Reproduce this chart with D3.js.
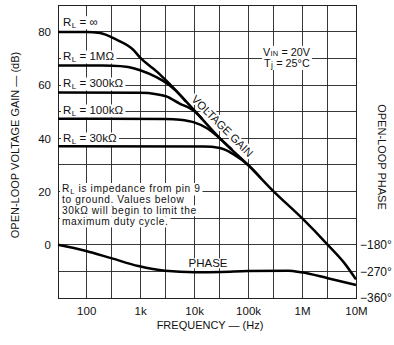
<!DOCTYPE html>
<html>
<head>
<meta charset="utf-8">
<script src="https://cdn.jsdelivr.net/npm/d3@7"></script>
<style>
  html, body { margin: 0; padding: 0; background: #fff; }
  svg { display: block; }
  text { font-family: "Liberation Sans", Arial, Helvetica, sans-serif; fill: #111; }
</style>
</head>
<body>
<svg id="chart" width="394" height="345"></svg>
<script>
// ---------------- DATA ----------------
const freqTickValues = [100, 1e3, 1e4, 1e5, 1e6, 1e7];
const freqTickLabels = ["100", "1k", "10k", "100k", "1M", "10M"];
const gridFreqs = [100, 300, 1e3, 3e3, 1e4, 3e4, 1e5, 3e5, 1e6, 3e6];
const gainTickValues = [0, 20, 40, 60, 80];
const gridGains = [-10, 0, 10, 20, 30, 40, 50, 60, 70, 80];
const phaseTickValues = [-180, -270, -360];
const phaseTickLabels = ["\u2212180°", "\u2212270°", "\u2212360°"];

// R_L = infinity
const freqInf = [30, 100, 181, 371, 751, 1000, 2037, 3120, 10000, 30000, 100000, 300000, 1e6, 3e6, 6e6, 1e7];
const gainInf = [80, 80, 79.6, 77, 73.2, 70.3, 65.1, 61.5, 50.6, 40, 30, 20, 10, 0, -6.7, -13];
// R_L = 1 MOhm
const freq1M = [30, 300, 600, 1000, 2000, 3300, 4500, 7000];
const gain1M = [67.4, 67.3, 66.8, 65.6, 63, 60.3, 58, 53.9];
// R_L = 300 kOhm
const freq300k = [30, 1000, 2000, 3000, 5500, 8000, 10000, 14000];
const gain300k = [57.2, 57.1, 56.6, 55.8, 53, 51.5, 50.3, 47.3];
// R_L = 100 kOhm
const freq100k = [30, 3000, 5500, 10000, 17000, 30000, 50000];
const gain100k = [47.4, 47.3, 47, 46, 43.9, 40, 35.8];
// R_L = 30 kOhm
const freq30k = [30, 15000, 30000, 55000, 100000, 170000];
const gain30k = [37, 36.9, 36.4, 33.9, 30, 25.2];
// Phase
const freqPhase = [30, 96, 300, 930, 2900, 10400, 32000, 100000, 550000, 970000, 3e6, 1e7];
const phaseDeg = [-180, -200, -226, -252, -268, -273, -272, -269, -268, -273, -293, -316];

const seriesLabels = ["\u221E", "1M\u03A9", "300k\u03A9", "100k\u03A9", "30k\u03A9"];
const noteLines = ["to ground. Values below", "30k\u03A9 will begin to limit the", "maximum duty cycle."];

// ---------------- CHART ----------------
const svg = d3.select("#chart");
svg.append("rect").attr("width", 394).attr("height", 345).attr("fill", "#fff");

const L = 58, R = 356, T = 5.3, B = 298;
const x = d3.scaleLog().domain([30, 1e7]).range([L, R]);
const y = d3.scaleLinear().domain([-20, 90]).range([B, T]);
const yP = d3.scaleLinear().domain([-360, 630]).range([B, T]);

const gridCol = "#222";
const grid = svg.append("g").attr("stroke", gridCol).attr("stroke-width", 0.9).attr("shape-rendering", "crispEdges");
grid.selectAll("line.v").data(gridFreqs).enter().append("line")
  .attr("x1", d => x(d)).attr("x2", d => x(d)).attr("y1", T).attr("y2", B);
grid.selectAll("line.h").data(gridGains).enter().append("line")
  .attr("x1", L).attr("x2", R).attr("y1", d => y(d)).attr("y2", d => y(d));
svg.append("rect").attr("x", L).attr("y", T).attr("width", R - L).attr("height", B - T)
  .attr("fill", "none").attr("stroke", gridCol).attr("stroke-width", 1).attr("shape-rendering", "crispEdges");

const bgLayer = svg.append("g");
const curveLayer = svg.append("g");
const textLayer = svg.append("g");

function addBg(node, padX, padY) {
  const bb = node.getBBox();
  bgLayer.append("rect")
    .attr("x", bb.x - padX).attr("y", bb.y - padY)
    .attr("width", bb.width + 2 * padX).attr("height", bb.height + 2 * padY)
    .attr("fill", "#fff");
}

// sequence of text pieces placed one after another (separate text elements)
function richText(x0, y0, segs, opts) {
  const g = textLayer.append("g");
  let cx = x0;
  segs.forEach(s => {
    cx += (s.gap || 0);
    const t = g.append("text").attr("x", cx).attr("y", y0 + (s.dy || 0))
      .attr("font-size", s.size).text(s.t);
    if (opts && opts.ls) t.attr("letter-spacing", opts.ls);
    cx += t.node().getComputedTextLength() + 0.4;
  });
  return g;
}

// curves
const line = d3.line().x(d => d[0]).y(d => d[1]).curve(d3.curveMonotoneX);
function drawGain(fs, gs) {
  const pts = fs.map((f, i) => [x(f), y(gs[i])]);
  curveLayer.append("path").attr("d", line(pts)).attr("fill", "none")
    .attr("stroke", "#000").attr("stroke-width", 2.5).attr("stroke-linejoin", "round");
}
drawGain(freqInf, gainInf);
drawGain(freq1M, gain1M);
drawGain(freq300k, gain300k);
drawGain(freq100k, gain100k);
drawGain(freq30k, gain30k);
curveLayer.append("path")
  .attr("d", line(freqPhase.map((f, i) => [x(f), yP(phaseDeg[i])])))
  .attr("fill", "none").attr("stroke", "#000").attr("stroke-width", 2.5);

// RL labels
const labelBaselines = [25.7, 60, 87, 114, 142];
seriesLabels.forEach((lab, i) => {
  const g = richText(63, labelBaselines[i], [
    { t: "R", size: 11.5 }, { t: "L", size: 8, dy: 2 }, { t: "= " + lab, size: 11.5, gap: 3 }
  ]);
  addBg(g.node(), 2, -0.5);
});

// conditions
const c1 = richText(263, 55.8, [{ t: "V", size: 10.8 }, { t: "IN", size: 7.5, dy: 0.3 }, { t: "= 20V", size: 10.8, gap: 3 }]);
const c2 = richText(264, 66.8, [{ t: "T", size: 10.8 }, { t: "j", size: 8.5, dy: 1.2 }, { t: "= 25°C", size: 10.8, gap: 3 }]);
addBg(c1.node(), 2, 0); addBg(c2.node(), 2, 0);

// note
const noteSize = 10.2, noteLS = 0.6;
const n1 = richText(62, 192, [{ t: "R", size: noteSize }, { t: "L", size: 7.5, dy: 1.5 }, { t: "is impedance from pin 9", size: noteSize, gap: 3 }], { ls: noteLS });
addBg(n1.node(), 2, 0);
noteLines.forEach((s, i) => {
  const t = textLayer.append("text").attr("x", 62).attr("y", 203.2 + i * 11.1)
    .attr("font-size", noteSize).attr("letter-spacing", noteLS).text(s);
  addBg(t.node(), 2, 0);
});

// PHASE label
const ph = textLayer.append("text").attr("x", 188.5).attr("y", 267.3).attr("font-size", 11.5).text("PHASE");
addBg(ph.node(), 1, -1);

// VOLTAGE GAIN label along the curve
textLayer.append("text")
  .attr("transform", "translate(222.5,126) rotate(45)")
  .attr("text-anchor", "middle").attr("dominant-baseline", "central")
  .attr("font-size", 11.2).attr("stroke", "#fff").attr("stroke-width", 4)
  .attr("paint-order", "stroke").attr("stroke-linejoin", "round")
  .text("VOLTAGE GAIN");

// axes
const ax = svg.append("g").attr("transform", `translate(0,${B})`)
  .call(d3.axisBottom(x).tickValues(freqTickValues).tickFormat((d, i) => freqTickLabels[i]).tickSize(0).tickPadding(9));
const ay = svg.append("g").attr("transform", `translate(${L},0)`)
  .call(d3.axisLeft(y).tickValues(gainTickValues).tickSize(0).tickPadding(7));
const ap = svg.append("g").attr("transform", `translate(${R},0)`)
  .call(d3.axisRight(yP).tickValues(phaseTickValues).tickFormat((d, i) => phaseTickLabels[i]).tickSize(0).tickPadding(4));
[ax, ay, ap].forEach(g => {
  g.select(".domain").remove();
  g.attr("font-family", null).attr("font-size", null);
  g.selectAll("text").attr("font-size", 11.5).attr("fill", "#111");
});
ap.selectAll("text").attr("font-size", 12);

// titles
svg.append("text").attr("x", 210).attr("y", 329).attr("text-anchor", "middle").attr("font-size", 11)
  .text("FREQUENCY \u2014 (Hz)");
svg.append("text").attr("transform", "translate(18.5,145) rotate(-90)").attr("text-anchor", "middle")
  .attr("font-size", 11).text("OPEN-LOOP VOLTAGE GAIN \u2014 (dB)");
svg.append("text").attr("transform", "translate(378.3,157) rotate(90)").attr("text-anchor", "middle")
  .attr("font-size", 11).text("OPEN-LOOP PHASE");
</script>
</body>
</html>
